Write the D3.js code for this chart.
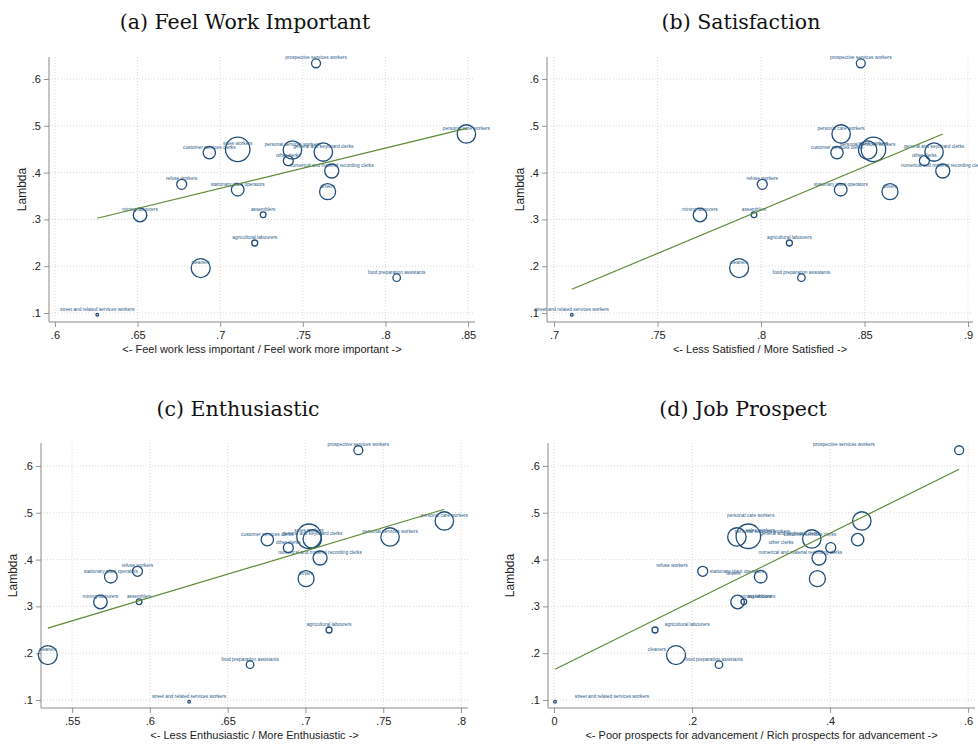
<!DOCTYPE html>
<html>
<head>
<meta charset="utf-8">
<script src="https://cdn.jsdelivr.net/npm/d3@7"></script>
<style>
  body { margin: 0; background: #fff; }
  svg { display: block; }
</style>
</head>
<body>
<svg id="chart" width="978" height="745"></svg>
<script>
// Occupation-level estimates: lambda against four job-attitude measures
const occupations = [
  "prospective services workers", "personal care workers", "customer services clerks",
  "sales workers", "personal services workers", "general and keyboard clerks",
  "other clerks", "numerical and material recording clerks", "refuse workers",
  "stationary plant operators", "drivers", "mining labourers", "assemblers",
  "agricultural labourers", "cleaners", "food preparation assistants",
  "street and related services workers"
];
const lambda = [0.6336, 0.4825, 0.4426, 0.4498, 0.4483, 0.444, 0.4254, 0.4034, 0.375,
  0.3635, 0.3592, 0.3094, 0.31, 0.2496, 0.196, 0.1755, 0.0964];
// marker weight (bubble area)
const employment = [20, 85, 38, 150, 85, 85, 25, 49, 25, 40, 64, 46, 8, 9, 90, 14, 1.7];
const feelImportant = [0.758, 0.849, 0.6934, 0.7106, 0.7437, 0.7624, 0.7412, 0.7675, 0.6767,
  0.7106, 0.765, 0.6515, 0.726, 0.7209, 0.6882, 0.8068, 0.6256];
const satisfaction = [0.8482, 0.8387, 0.8367, 0.8543, 0.8515, 0.8836, 0.8789, 0.8878, 0.8006,
  0.8385, 0.8623, 0.7705, 0.7966, 0.8137, 0.7894, 0.8195, 0.7086];
const enthusiastic = [0.734, 0.7893, 0.6755, 0.7023, 0.7544, 0.7044, 0.689, 0.7094, 0.592,
  0.5749, 0.7004, 0.5682, 0.5931, 0.7152, 0.5344, 0.6644, 0.6252];
const jobProspect = [0.587, 0.446, 0.44, 0.2816, 0.265, 0.3735, 0.401, 0.384, 0.2155,
  0.2995, 0.3816, 0.266, 0.275, 0.1464, 0.1768, 0.239, 0.0015];
// the job-prospect panel places its marker labels at these x values
const jobProspectLabelX = [0.42, 0.285, 0.371, 0.299, 0.302, 0.342, 0.329, 0.357, 0.171,
  0.265, 0.26, 0.295, 0.298, 0.193, 0.149, 0.232, 0.084];
// linear fit: intercept and slope per panel
const fitIntercept = [-0.2356, -1.1617, -0.279, 0.1645];
const fitSlope = [0.860, 1.852, 0.9965, 0.73];

const panelTitles = ["(a) Feel Work Important", "(b) Satisfaction", "(c) Enthusiastic", "(d) Job Prospect"];
const xTitles = [
  "<- Feel work less important / Feel work more important ->",
  "<- Less Satisfied / More Satisfied ->",
  "<- Less Enthusiastic / More Enthusiastic ->",
  "<- Poor prospects for advancement / Rich prospects for advancement ->"
];
const xTicks = [
  [0.6, 0.65, 0.7, 0.75, 0.8, 0.85],
  [0.7, 0.75, 0.8, 0.85, 0.9],
  [0.55, 0.6, 0.65, 0.7, 0.75, 0.8],
  [0, 0.2, 0.4, 0.6]
];
const yTicks = [0.1, 0.2, 0.3, 0.4, 0.5, 0.6];
const xDomains = [[0.5964, 0.8542], [0.6966, 0.9024], [0.530, 0.8045], [-0.0087, 0.61]];
const xSeries = [feelImportant, satisfaction, enthusiastic, jobProspect];

// panel geometry
const panels = [
  { left: 49,  right: 475, top: 57,  bottom: 322, yDomain: [0.0808, 0.647], titleX: 245, titleY: 29, yTitleX: 22 },
  { left: 547, right: 973, top: 57,  bottom: 322, yDomain: [0.0808, 0.647], titleX: 741, titleY: 29, yTitleX: 520 },
  { left: 41,  right: 468, top: 443, bottom: 708, yDomain: [0.083, 0.649],  titleX: 238, titleY: 416, yTitleX: 13 },
  { left: 548, right: 975, top: 443, bottom: 708, yDomain: [0.083, 0.649],  titleX: 743, titleY: 416, yTitleX: 510 }
];

const navy = "#1f4d7a";
const fitColor = "#5e8a35";
const axisColor = "#8a8a8a";
const fmt = v => v === 0 ? "0" : d3.format("")(+v.toFixed(2)).replace(/^0\./, ".");

const svg = d3.select("#chart");
svg.append("rect").attr("width", 978).attr("height", 745).attr("fill", "#fff");

const r = d3.scaleSqrt().domain([0, 150]).range([0, 12.25]);

panels.forEach((p, i) => {
  const g = svg.append("g");
  const x = d3.scaleLinear().domain(xDomains[i]).range([p.left, p.right]);
  const y = d3.scaleLinear().domain(p.yDomain).range([p.bottom, p.top]);
  const xs = xSeries[i];

  // title
  g.append("text").attr("x", p.titleX).attr("y", p.titleY)
    .attr("text-anchor", "middle")
    .attr("font-family", "'DejaVu Serif', 'Liberation Serif', serif")
    .attr("font-size", 20.5).attr("fill", "#111")
    .text(panelTitles[i]);

  // gridlines
  g.append("g").selectAll("line").data(yTicks).join("line")
    .attr("x1", p.left).attr("x2", p.right)
    .attr("y1", d => y(d)).attr("y2", d => y(d))
    .attr("stroke", "#cfcfcf").attr("stroke-width", 0.8).attr("stroke-dasharray", "1,2");
  g.append("g").selectAll("line").data(xTicks[i]).join("line")
    .attr("x1", d => x(d)).attr("x2", d => x(d))
    .attr("y1", p.top).attr("y2", p.bottom)
    .attr("stroke", "#cfcfcf").attr("stroke-width", 0.8).attr("stroke-dasharray", "1,2");

  // axes
  const yAxis = d3.axisLeft(y).tickValues(yTicks).tickSize(5).tickPadding(3).tickFormat(fmt);
  const xAxis = d3.axisBottom(x).tickValues(xTicks[i]).tickSize(5).tickPadding(4).tickFormat(fmt);
  const ya = g.append("g").attr("transform", `translate(${p.left},0)`).call(yAxis);
  const xa = g.append("g").attr("transform", `translate(0,${p.bottom})`).call(xAxis);
  [ya, xa].forEach(a => {
    a.select(".domain").remove();
    a.selectAll(".tick line").attr("stroke", axisColor).attr("stroke-width", 0.9);
    a.selectAll(".tick text").attr("font-family", "'Liberation Sans', Arial, sans-serif")
      .attr("font-size", 11).attr("fill", "#222");
  });
  g.append("line").attr("x1", p.left).attr("x2", p.left).attr("y1", p.top).attr("y2", p.bottom)
    .attr("stroke", axisColor).attr("stroke-width", 1);
  g.append("line").attr("x1", p.left).attr("x2", p.right).attr("y1", p.bottom).attr("y2", p.bottom)
    .attr("stroke", axisColor).attr("stroke-width", 1);

  // axis titles
  g.append("text").attr("x", (p.left + p.right) / 2).attr("y", p.bottom + 31)
    .attr("text-anchor", "middle")
    .attr("font-family", "'Liberation Sans', Arial, sans-serif").attr("font-size", 11).attr("fill", "#222")
    .text(xTitles[i]);
  g.append("text")
    .attr("transform", `translate(${p.yTitleX},${(p.top + p.bottom) / 2}) rotate(-90)`)
    .attr("text-anchor", "middle").attr("dy", "0.35em")
    .attr("font-family", "'Liberation Sans', Arial, sans-serif").attr("font-size", 12).attr("fill", "#222")
    .text("Lambda");

  // bubbles
  g.append("g").selectAll("circle").data(occupations).join("circle")
    .attr("cx", (d, k) => x(xs[k])).attr("cy", (d, k) => y(lambda[k]))
    .attr("r", (d, k) => r(employment[k]))
    .attr("fill", "none").attr("stroke", navy).attr("stroke-width", 1.3);

  // marker labels
  const lx = i === 3 ? jobProspectLabelX : xs;
  g.append("g").selectAll("text").data(occupations).join("text")
    .attr("x", (d, k) => x(lx[k])).attr("y", (d, k) => y(lambda[k]) - 4)
    .attr("text-anchor", "middle")
    .attr("font-family", "'Liberation Sans', Arial, sans-serif").attr("font-size", 4.8)
    .attr("fill", "#2b5a88")
    .text(d => d);

  // linear fit across the observed range
  const [x0, x1] = d3.extent(xs);
  g.append("line")
    .attr("x1", x(x0)).attr("y1", y(fitIntercept[i] + fitSlope[i] * x0))
    .attr("x2", x(x1)).attr("y2", y(fitIntercept[i] + fitSlope[i] * x1))
    .attr("stroke", fitColor).attr("stroke-width", 1.2);
});
</script>
</body>
</html>
